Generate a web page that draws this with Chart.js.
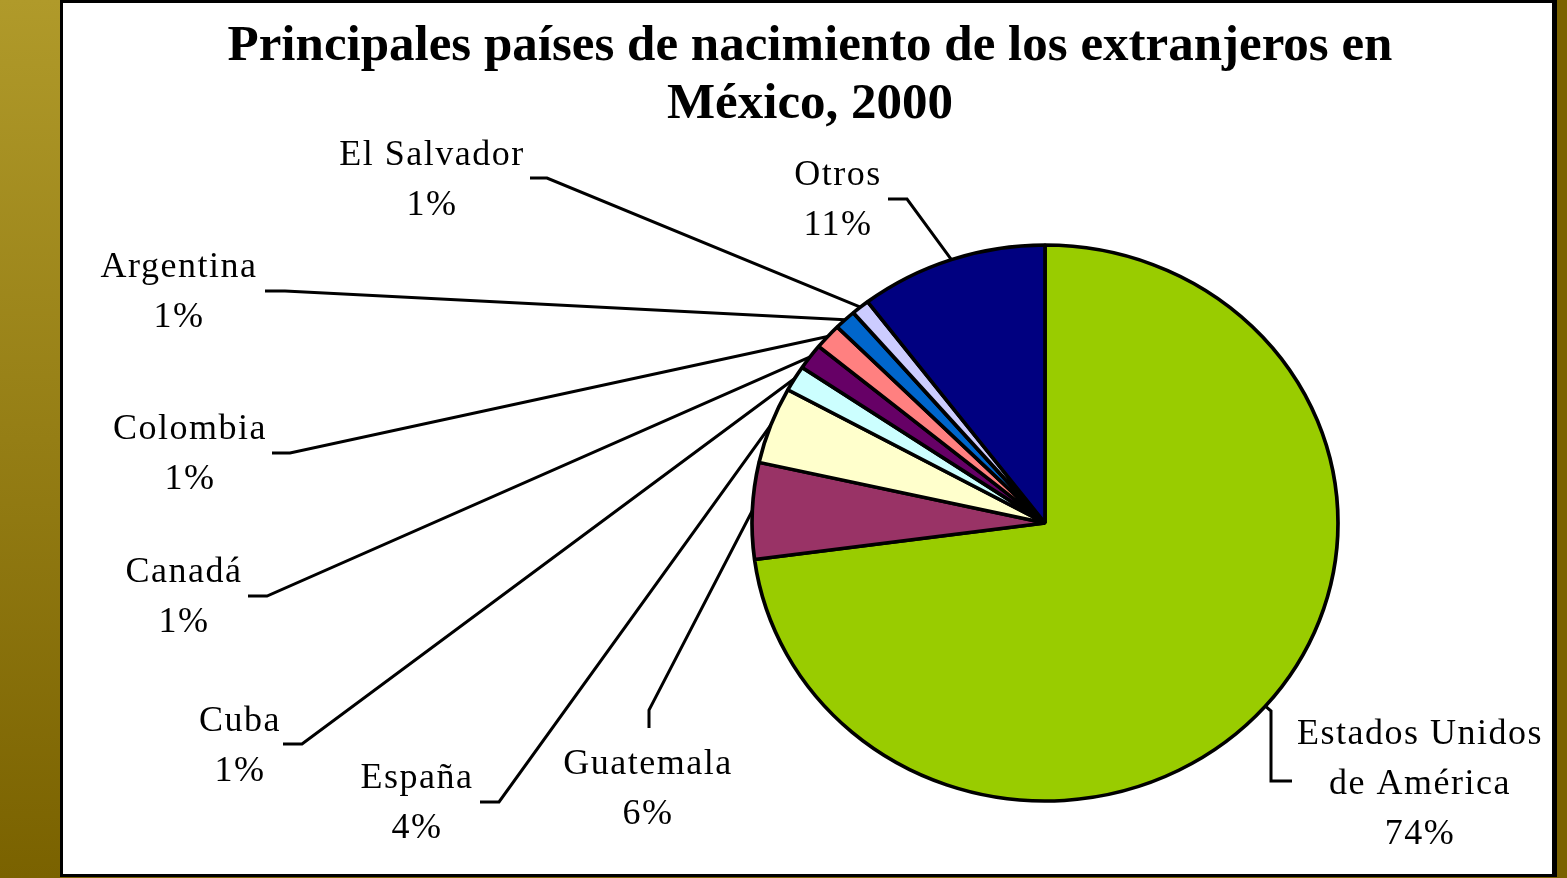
<!DOCTYPE html>
<html>
<head>
<meta charset="utf-8">
<script src="https://cdn.jsdelivr.net/npm/chart.js@4"></script>
<style>
  html, body { margin: 0; padding: 0; }
  body {
    width: 1567px; height: 878px; overflow: hidden; position: relative;
    background: #7a6200;
  }
  #strip {
    position: absolute; left: 0; top: 0; width: 60px; height: 878px;
    background: linear-gradient(#b09a2a, #7a6200);
  }
  #frame {
    position: absolute; left: 60px; top: 0; width: 1489px; height: 871px;
    background: #fff; border: 3px solid #000; border-right-width: 5px;
  }
  #wrap { position: absolute; left: 0; top: 0; width: 1567px; height: 878px; }
</style>
</head>
<body>
<div id="strip"></div>
<div id="frame"></div>
<div id="wrap"><canvas id="pie"></canvas></div>
<script>
// data, clockwise from 12 o'clock
const countries = ["Estados Unidos de América", "Guatemala", "España", "Cuba", "Canadá",
                   "Colombia", "Argentina", "El Salvador", "Otros"];
const shares = [72.9, 5.6, 4.45, 1.5, 1.5, 1.5, 1.2, 1.0, 10.35];
const shareLabels = ["74%", "6%", "4%", "1%", "1%", "1%", "1%", "1%", "11%"];
const labelLines = [["Estados Unidos", "de América"], ["Guatemala"], ["España"], ["Cuba"], ["Canadá"],
                    ["Colombia"], ["Argentina"], ["El Salvador"], ["Otros"]];
const sliceColors = ["#99cc00", "#993366", "#ffffcc", "#ccffff", "#660066",
                     "#ff8080", "#0066cc", "#ccccff", "#000080"];

const titleLines = ["Principales países de nacimiento de los extranjeros en", "México, 2000"];

// label placement: text centre x, first line centre y, leader elbow points (label side last)
const labelLayout = [
  { x: 1420, y: 735, path: [[1271, 711], [1271, 781], [1292, 781]] },
  { x: 648, y: 765, path: [[649, 710], [649, 728]] },
  { x: 417, y: 779, path: [[499, 802], [480, 802]] },
  { x: 240, y: 722, path: [[302, 744], [283, 744]] },
  { x: 184, y: 573, path: [[267, 596], [248, 596]] },
  { x: 190, y: 430, path: [[290, 453], [272, 453]] },
  { x: 179, y: 268, path: [[285, 291], [265, 291]] },
  { x: 432, y: 156, path: [[547, 178], [530, 178]] },
  { x: 838, y: 176, path: [[907, 199], [888, 199]] }
];

const stretchX = 293 / 278;   // the original pie is a bit wider than tall

const ellipsePlugin = {
  id: "ellipse",
  beforeDatasetsDraw(chart) {
    const arc = chart.getDatasetMeta(0).data[0];
    const ctx = chart.ctx;
    ctx.save();
    ctx.translate(arc.x, 0);
    ctx.scale(stretchX, 1);
    ctx.translate(-arc.x, 0);
  },
  afterDatasetsDraw(chart) {
    chart.ctx.restore();
  }
};

const labelPlugin = {
  id: "pieLabels",
  afterDraw(chart) {
    const ctx = chart.ctx;
    const meta = chart.getDatasetMeta(0);

    // title
    ctx.save();
    ctx.fillStyle = "#000";
    ctx.textAlign = "center";
    ctx.textBaseline = "middle";
    ctx.font = "bold 51px 'Liberation Serif'";
    titleLines.forEach((t, i) => ctx.fillText(t, 810, 47 + i * 58));

    ctx.font = "36px 'Liberation Serif'";
    ctx.letterSpacing = "1.5px";
    meta.data.forEach((arc, i) => {
      const p = arc.getProps(["x", "y", "startAngle", "endAngle", "outerRadius"], true);
      const mid = (p.startAngle + p.endAngle) / 2;
      const sx = p.x + Math.cos(mid) * p.outerRadius * stretchX;
      const sy = p.y + Math.sin(mid) * p.outerRadius;
      const lay = labelLayout[i];

      ctx.strokeStyle = "#000";
      ctx.lineWidth = 3;
      ctx.beginPath();
      ctx.moveTo(sx, sy);
      lay.path.forEach(pt => ctx.lineTo(pt[0], pt[1]));
      ctx.stroke();

      const lines = labelLines[i].concat([shareLabels[i]]);
      lines.forEach((t, k) => ctx.fillText(t, lay.x, lay.y + k * 50));
    });
    ctx.restore();
  }
};

new Chart(document.getElementById("pie"), {
  type: "pie",
  data: {
    labels: countries,
    datasets: [{
      data: shares,
      backgroundColor: sliceColors,
      borderColor: "#000",
      borderWidth: 3.5
    }]
  },
  options: {
    responsive: true,
    maintainAspectRatio: false,
    animation: false,
    radius: 278,
    layout: { padding: { left: 600, right: 77, top: 220, bottom: 52 } },
    plugins: {
      legend: { display: false },
      tooltip: { enabled: false }
    }
  },
  plugins: [ellipsePlugin, labelPlugin]
});
</script>
</body>
</html>
